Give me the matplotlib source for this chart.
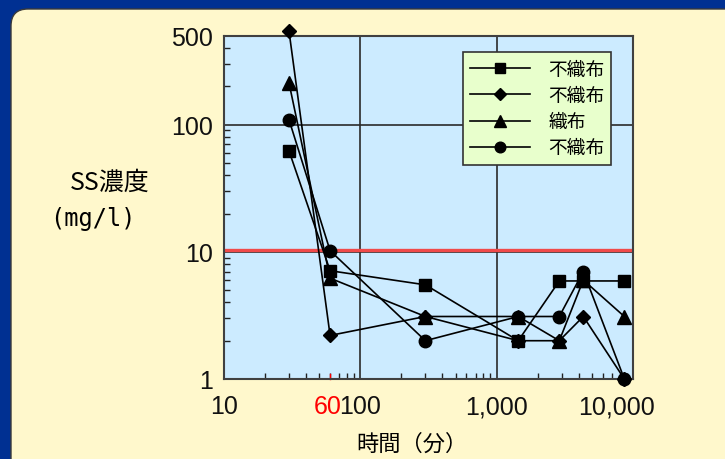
import matplotlib
matplotlib.use('Agg')
import matplotlib.pyplot as plt
import matplotlib.transforms as mtransforms
from matplotlib.patches import FancyBboxPatch
from matplotlib.ticker import FixedLocator, NullFormatter

plt.rcParams['font.family'] = ['Liberation Sans', 'Noto Sans CJK JP']

# elapsed time (min) and SS concentration (mg/l) per filter
times = [30, 60, 300, 1440, 2880, 4320, 8640]
ss_nonwoven1 = [62, 7.1, 5.5, 2.0, 5.9, 5.9, 5.9]
ss_nonwoven2 = [540, 2.2, 3.1, 2.0, 2.0, 3.1, 1.0]
ss_woven = [212, 6.2, 3.1, 3.1, 2.0, 6.0, 3.1]
ss_nonwoven3 = [109, 10.2, 2.0, 3.1, 3.1, 7.0, 1.0]
labels = ['不織布', '不織布', '織布', '不織布']
limit_value = 10.4

x_ticks = [10, 100, 1000, 10000]
x_ticklabels = ['10', '100', '1,000', '10,000']
y_ticks = [1, 10, 100, 500]
y_ticklabels = ['1', '10', '100', '500']

fig = plt.figure(figsize=(7.25, 4.6), dpi=100)
fig.patch.set_facecolor('#003092')

panel = FancyBboxPatch((0.11, -0.5), 7.6, 5.0, boxstyle='round,pad=0,rounding_size=0.17',
                       transform=fig.dpi_scale_trans, fc='#FFF8CC', ec='#3a3a3a', lw=1.0, zorder=0)
fig.add_artist(panel)

ax = fig.add_axes([224 / 725, 1 - 380 / 460, 409 / 725, (380 - 36.7) / 460])
ax.set_facecolor('#CCEBFF')
ax.set_xscale('log')
ax.set_yscale('log')
ax.set_xlim(10, 10000)
ax.set_ylim(1, 500)

ax.axhline(limit_value, color='#F04A4A', lw=2.4, zorder=2)

series = [(ss_nonwoven1, 's', 8.5), (ss_nonwoven2, 'D', 7.5), (ss_woven, '^', 9.5), (ss_nonwoven3, 'o', 9)]
for (vals, mk, ms), lab in zip(series, labels):
    ax.plot(times, vals, color='black', lw=1.2, marker=mk, markersize=ms,
            label=lab, clip_on=False, zorder=3)

# ticks and grid
ax.xaxis.set_major_locator(FixedLocator(x_ticks))
ax.set_xticklabels(x_ticklabels)
ax.yaxis.set_major_locator(FixedLocator(y_ticks))
ax.set_yticklabels(y_ticklabels)
x_minor = [m * 10 ** e for e in range(1, 4) for m in range(2, 10)]
y_minor = [m * 10 ** e for e in range(0, 2) for m in range(2, 10)] + [200, 300, 400]
ax.xaxis.set_minor_locator(FixedLocator(x_minor))
ax.yaxis.set_minor_locator(FixedLocator(y_minor))
ax.xaxis.set_minor_formatter(NullFormatter())
ax.yaxis.set_minor_formatter(NullFormatter())
ax.tick_params(which='major', length=0, labelsize=18, colors='#111111')
ax.tick_params(axis='x', which='major', pad=11)
ax.tick_params(axis='y', which='major', pad=8)
ax.tick_params(which='minor', direction='in', length=4.5, width=1, color='#222222')
for v in [10, 100]:
    ax.axhline(v, color='#2a2a2a', lw=1.2, zorder=1)
for v in [100, 1000]:
    ax.axvline(v, color='#2a2a2a', lw=1.2, zorder=1)
for s in ax.spines.values():
    s.set_color('#404040')
    s.set_linewidth(1.5)

# red 60 minute marker
ax.plot([60, 60], [0, 0.014], color='red', lw=1, transform=ax.get_xaxis_transform(), clip_on=False)
ax.text(58, -0.045, '60', color='red', fontsize=18, ha='center', va='top',
        transform=ax.get_xaxis_transform())

# last x label sits a bit left, as in the original
for lab in ax.get_xticklabels():
    if lab.get_text() == '10,000':
        lab.set_transform(lab.get_transform() + mtransforms.ScaledTranslation(-0.17, 0, fig.dpi_scale_trans))

fig.text(110 / 725, 1 - 183 / 460, 'SS濃度', fontsize=18, ha='center', va='center',
         family=['Noto Sans CJK JP'])
fig.text(93 / 725, 1 - 219 / 460, '(mg/l)', fontsize=17, ha='center', va='center',
         family=['DejaVu Sans Mono'])
fig.text(412 / 725, 1 - 444 / 460, '時間（分）', fontsize=16, ha='center', va='center',
         family=['Noto Sans CJK JP'])

leg = ax.legend(loc='upper left', bbox_to_anchor=(463 / 725, 1 - 53 / 460),
                bbox_transform=fig.transFigure, borderaxespad=0, fancybox=False,
                facecolor='#E8FFCC', edgecolor='#333333', framealpha=1,
                prop={'family': 'Noto Sans CJK JP', 'size': 13.5},
                handlelength=3.2, handletextpad=1.0, labelspacing=0.28,
                borderpad=0.35, markerscale=0.85)
leg.get_frame().set_linewidth(1.2)
leg.set_zorder(5)

fig.savefig('out.png', dpi=100, facecolor=fig.get_facecolor())
